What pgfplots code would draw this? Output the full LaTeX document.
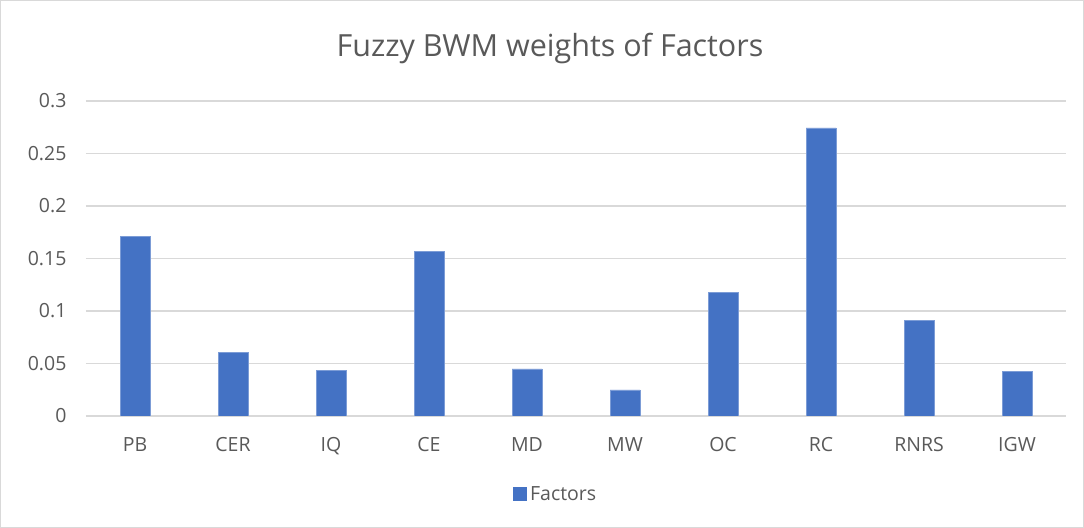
\documentclass[border=0pt]{standalone}
\usepackage{pgfplots}
\pgfplotsset{compat=1.18}
\usepackage{fontspec}
\setmainfont{Open Sans}
\definecolor{barblue}{HTML}{4472C4}
\definecolor{txtgray}{HTML}{595959}
\definecolor{gridgray}{HTML}{D9D9D9}
\begin{document}
\begin{tikzpicture}
\useasboundingbox (0,0) rectangle (1084bp,528bp);
\draw[gridgray, line width=1bp] (0.5bp,0.5bp) rectangle (1083.5bp,527.5bp);
\node[text=txtgray, font=\fontsize{30.5bp}{34bp}\selectfont] at (550bp,479bp) {Fuzzy BWM weights of Factors};
\begin{axis}[
  at={(86bp,112bp)}, anchor=south west,
  scale only axis, width=980bp, height=315bp,
  xmin=-0.5, xmax=9.5, ymin=0, ymax=0.3,
  xtick={0,...,9},
  xticklabels={PB,CER,IQ,CE,MD,MW,OC,RC,RNRS,IGW},
  ytick={0,0.05,0.1,0.15,0.2,0.25,0.3},
  yticklabels={0,0.05,0.1,0.15,0.2,0.25,0.3},
  axis line style={draw=none},
  major tick length=0pt,
  ymajorgrids, grid style={gridgray, line width=1.2bp},
  tick label style={text=txtgray, font=\fontsize{19.5bp}{22bp}\selectfont},
  xticklabel style={yshift=-18bp},
  yticklabel style={xshift=-16bp},
  legend style={at={(0.479,-0.248)}, anchor=center, draw=none, fill=none,
    font=\fontsize{19.5bp}{22bp}\selectfont, text=txtgray,
    legend cell align=left, inner sep=0pt},
  legend image code/.code={\fill[barblue] (0bp,-6.5bp) rectangle (13bp,6.5bp);},
]
\addplot[ybar, bar width=30bp, fill=barblue, draw=barblue!70!white, line width=0.5bp] coordinates {
(0,0.171) (1,0.0605) (2,0.0435) (3,0.157) (4,0.0448) (5,0.0248) (6,0.1175) (7,0.2745) (8,0.0914) (9,0.0423)};
\addlegendentry{\hspace{2bp}Factors}
\end{axis}
\end{tikzpicture}
\end{document}
